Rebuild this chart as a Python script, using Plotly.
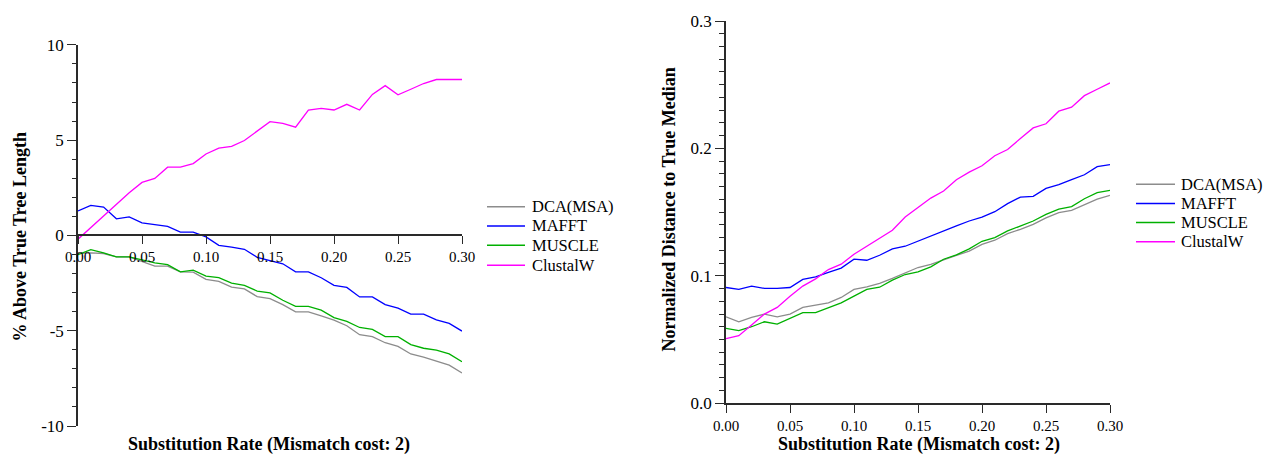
import plotly.graph_objects as go

# Substitution rates (x) shared by both panels
rates = [0.00, 0.01, 0.02, 0.03, 0.04, 0.05, 0.06, 0.07, 0.08, 0.09,
         0.10, 0.11, 0.12, 0.13, 0.14, 0.15, 0.16, 0.17, 0.18, 0.19,
         0.20, 0.21, 0.22, 0.23, 0.24, 0.25, 0.26, 0.27, 0.28, 0.29, 0.30]

methods = ["DCA(MSA)", "MAFFT", "MUSCLE", "ClustalW"]

# Left panel: % above true tree length
tree_dca = [-0.95, -0.92, -0.95, -1.13, -1.13, -1.35, -1.61, -1.61, -1.91, -1.93,
            -2.31, -2.41, -2.71, -2.81, -3.21, -3.32, -3.63, -4.01, -4.01, -4.22,
            -4.44, -4.74, -5.21, -5.31, -5.63, -5.82, -6.22, -6.39, -6.60, -6.81, -7.22]
tree_mafft = [1.28, 1.58, 1.49, 0.87, 0.97, 0.66, 0.57, 0.47, 0.17, 0.17,
              -0.08, -0.52, -0.62, -0.73, -1.15, -1.32, -1.49, -1.91, -1.91, -2.22,
              -2.62, -2.73, -3.23, -3.23, -3.63, -3.82, -4.13, -4.13, -4.43, -4.62, -5.02]
tree_muscle = [-1.01, -0.75, -0.92, -1.13, -1.13, -1.27, -1.44, -1.53, -1.91, -1.82,
               -2.14, -2.22, -2.50, -2.62, -2.92, -3.02, -3.40, -3.72, -3.72, -3.92,
               -4.31, -4.51, -4.83, -4.93, -5.31, -5.31, -5.73, -5.92, -6.02, -6.22, -6.63]
tree_clustalw = [-0.20, 0.40, 1.00, 1.65, 2.24, 2.78, 2.99, 3.58, 3.58, 3.77,
                 4.27, 4.58, 4.67, 4.98, 5.47, 5.97, 5.88, 5.68, 6.58, 6.67,
                 6.58, 6.88, 6.58, 7.40, 7.86, 7.38, 7.67, 7.97, 8.18, 8.18, 8.18]

# Right panel: normalized distance to true median
dist_dca = [0.0678, 0.0639, 0.0673, 0.0699, 0.0678, 0.0699, 0.0752, 0.0770, 0.0788, 0.0830,
            0.0893, 0.0913, 0.0940, 0.0979, 0.1023, 0.1065, 0.1090, 0.1128, 0.1160, 0.1193,
            0.1247, 0.1279, 0.1331, 0.1365, 0.1404, 0.1454, 0.1496, 0.1514, 0.1555, 0.1602, 0.1631]
dist_mafft = [0.0908, 0.0893, 0.0919, 0.0901, 0.0901, 0.0908, 0.0971, 0.0992, 0.1026, 0.1060,
              0.1130, 0.1122, 0.1161, 0.1211, 0.1232, 0.1273, 0.1313, 0.1352, 0.1391, 0.1430,
              0.1461, 0.1503, 0.1566, 0.1618, 0.1623, 0.1686, 0.1715, 0.1754, 0.1793, 0.1856, 0.1872]
dist_muscle = [0.0587, 0.0569, 0.0600, 0.0639, 0.0621, 0.0666, 0.0710, 0.0710, 0.0749, 0.0788,
               0.0840, 0.0893, 0.0910, 0.0966, 0.1010, 0.1031, 0.1070, 0.1130, 0.1164, 0.1211,
               0.1271, 0.1300, 0.1352, 0.1391, 0.1430, 0.1482, 0.1524, 0.1543, 0.1605, 0.1652, 0.1670]
dist_clustalw = [0.0506, 0.0530, 0.0613, 0.0699, 0.0752, 0.0840, 0.0919, 0.0976, 0.1049, 0.1091,
                 0.1169, 0.1232, 0.1292, 0.1357, 0.1461, 0.1535, 0.1610, 0.1665, 0.1754, 0.1814,
                 0.1864, 0.1942, 0.1991, 0.2078, 0.2161, 0.2193, 0.2292, 0.2323, 0.2414, 0.2464, 0.2514]

# Tick labels
left_y_ticks = [-10, -5, 0, 5, 10]
left_y_labels = ["-10", "-5", "0", "5", "10"]

x_title = "Substitution Rate (Mismatch cost: 2)"
left_y_title = "% Above True Tree Length"
right_y_title = "Normalized Distance to True Median"

colors = ["#8c8c8c", "#0000ff", "#00b000", "#ff00ff"]
SERIF = "Liberation Serif, Times New Roman, serif"
AXIS_COLOR = "#2a2a2a"

# Plot area spans x 78..1110 px and y 18..426 px of the page
PX_L, PX_W, PX_B, PX_H = 78, 1032, 426, 408


def px_x(px):
    return (px - PX_L) / PX_W


def px_y(py):
    return (PX_B - py) / PX_H


fig = go.Figure()

left_series = [tree_dca, tree_mafft, tree_muscle, tree_clustalw]
right_series = [dist_dca, dist_mafft, dist_muscle, dist_clustalw]

for name, ys, col in zip(methods, left_series, colors):
    fig.add_trace(go.Scatter(x=rates, y=ys, mode="lines", name=name,
                             line=dict(color=col, width=1.3),
                             xaxis="x", yaxis="y", showlegend=False))
for name, ys, col in zip(methods, right_series, colors):
    fig.add_trace(go.Scatter(x=rates, y=ys, mode="lines", name=name,
                             line=dict(color=col, width=1.3),
                             xaxis="x2", yaxis="y2", showlegend=False))

axis_common = dict(showgrid=False, zeroline=False, showline=True,
                   linecolor=AXIS_COLOR, linewidth=1.5,
                   ticks="outside", tickcolor=AXIS_COLOR, tickwidth=1.2)
x_tick_font = dict(family=SERIF, size=15, color="black")
y_tick_font = dict(family=SERIF, size=17, color="black")

L_DOM_TOP = px_y(42)
R_DOM_BOT = px_y(403)

fig.update_layout(
    width=1272, height=454,
    margin=dict(l=PX_L, r=1272 - PX_L - PX_W, t=PX_B - PX_H, b=454 - PX_B),
    paper_bgcolor="white", plot_bgcolor="white",
    font=dict(family=SERIF, size=15, color="black"),
    showlegend=False,
    xaxis=dict(axis_common, domain=[0, px_x(462)], range=[0, 0.3],
               dtick=0.05, tickformat=".2f", ticklen=8, tickfont=x_tick_font,
               anchor="free", position=L_DOM_TOP / 2),
    yaxis=dict(axis_common, domain=[0, L_DOM_TOP], range=[-10, 10],
               tickvals=left_y_ticks, ticktext=left_y_labels,
               ticklen=9, tickfont=y_tick_font, anchor="x",
               minor=dict(dtick=1, ticklen=4, ticks="outside",
                          tickcolor=AXIS_COLOR, showgrid=False)),
    xaxis2=dict(axis_common, domain=[px_x(726), 1], range=[0, 0.3],
                dtick=0.05, tickformat=".2f", ticklen=8, tickfont=x_tick_font,
                anchor="y2"),
    yaxis2=dict(axis_common, domain=[R_DOM_BOT, 1], range=[0, 0.3],
                dtick=0.1, tickformat=".1f", ticklen=9, tickfont=y_tick_font,
                anchor="x2",
                minor=dict(dtick=0.01, ticklen=5, ticks="outside",
                           tickcolor=AXIS_COLOR, showgrid=False)),
)

# Axis titles
x_title_font = dict(family=SERIF, size=18, color="black")
y_title_font = dict(family=SERIF, size=18, color="black")
titles = [
    dict(text="<b>%s</b>" % x_title, x=px_x(269), y=px_y(445), font=x_title_font),
    dict(text="<b>%s</b>" % x_title, x=px_x(919), y=px_y(445), font=x_title_font),
    dict(text="<b>%s</b>" % left_y_title, x=px_x(20), y=px_y(236),
         textangle=-90, font=y_title_font),
    dict(text="<b>%s</b>" % right_y_title, x=px_x(669), y=px_y(208),
         textangle=-90, font=y_title_font),
]
for a in titles:
    fig.add_annotation(xref="paper", yref="paper", showarrow=False,
                       xanchor="center", yanchor="middle", **a)

# Legends (line key + label), one per panel
legend_font = dict(family=SERIF, size=16.5, color="black")
legend_boxes = [
    dict(line_x=(487, 525), text_x=530, rows=[205, 224.5, 244, 264]),
    dict(line_x=(1136, 1175), text_x=1179, rows=[182.5, 201.8, 221, 240.3]),
]
for box in legend_boxes:
    for name, col, row in zip(methods, colors, box["rows"]):
        fig.add_shape(type="line", xref="paper", yref="paper",
                      x0=px_x(box["line_x"][0]), x1=px_x(box["line_x"][1]),
                      y0=px_y(row), y1=px_y(row),
                      line=dict(color=col, width=1.5))
        fig.add_annotation(xref="paper", yref="paper", showarrow=False,
                           x=px_x(box["text_x"]), y=px_y(row),
                           xanchor="left", yanchor="middle",
                           text=name, font=legend_font)

fig.write_html("out.html")
